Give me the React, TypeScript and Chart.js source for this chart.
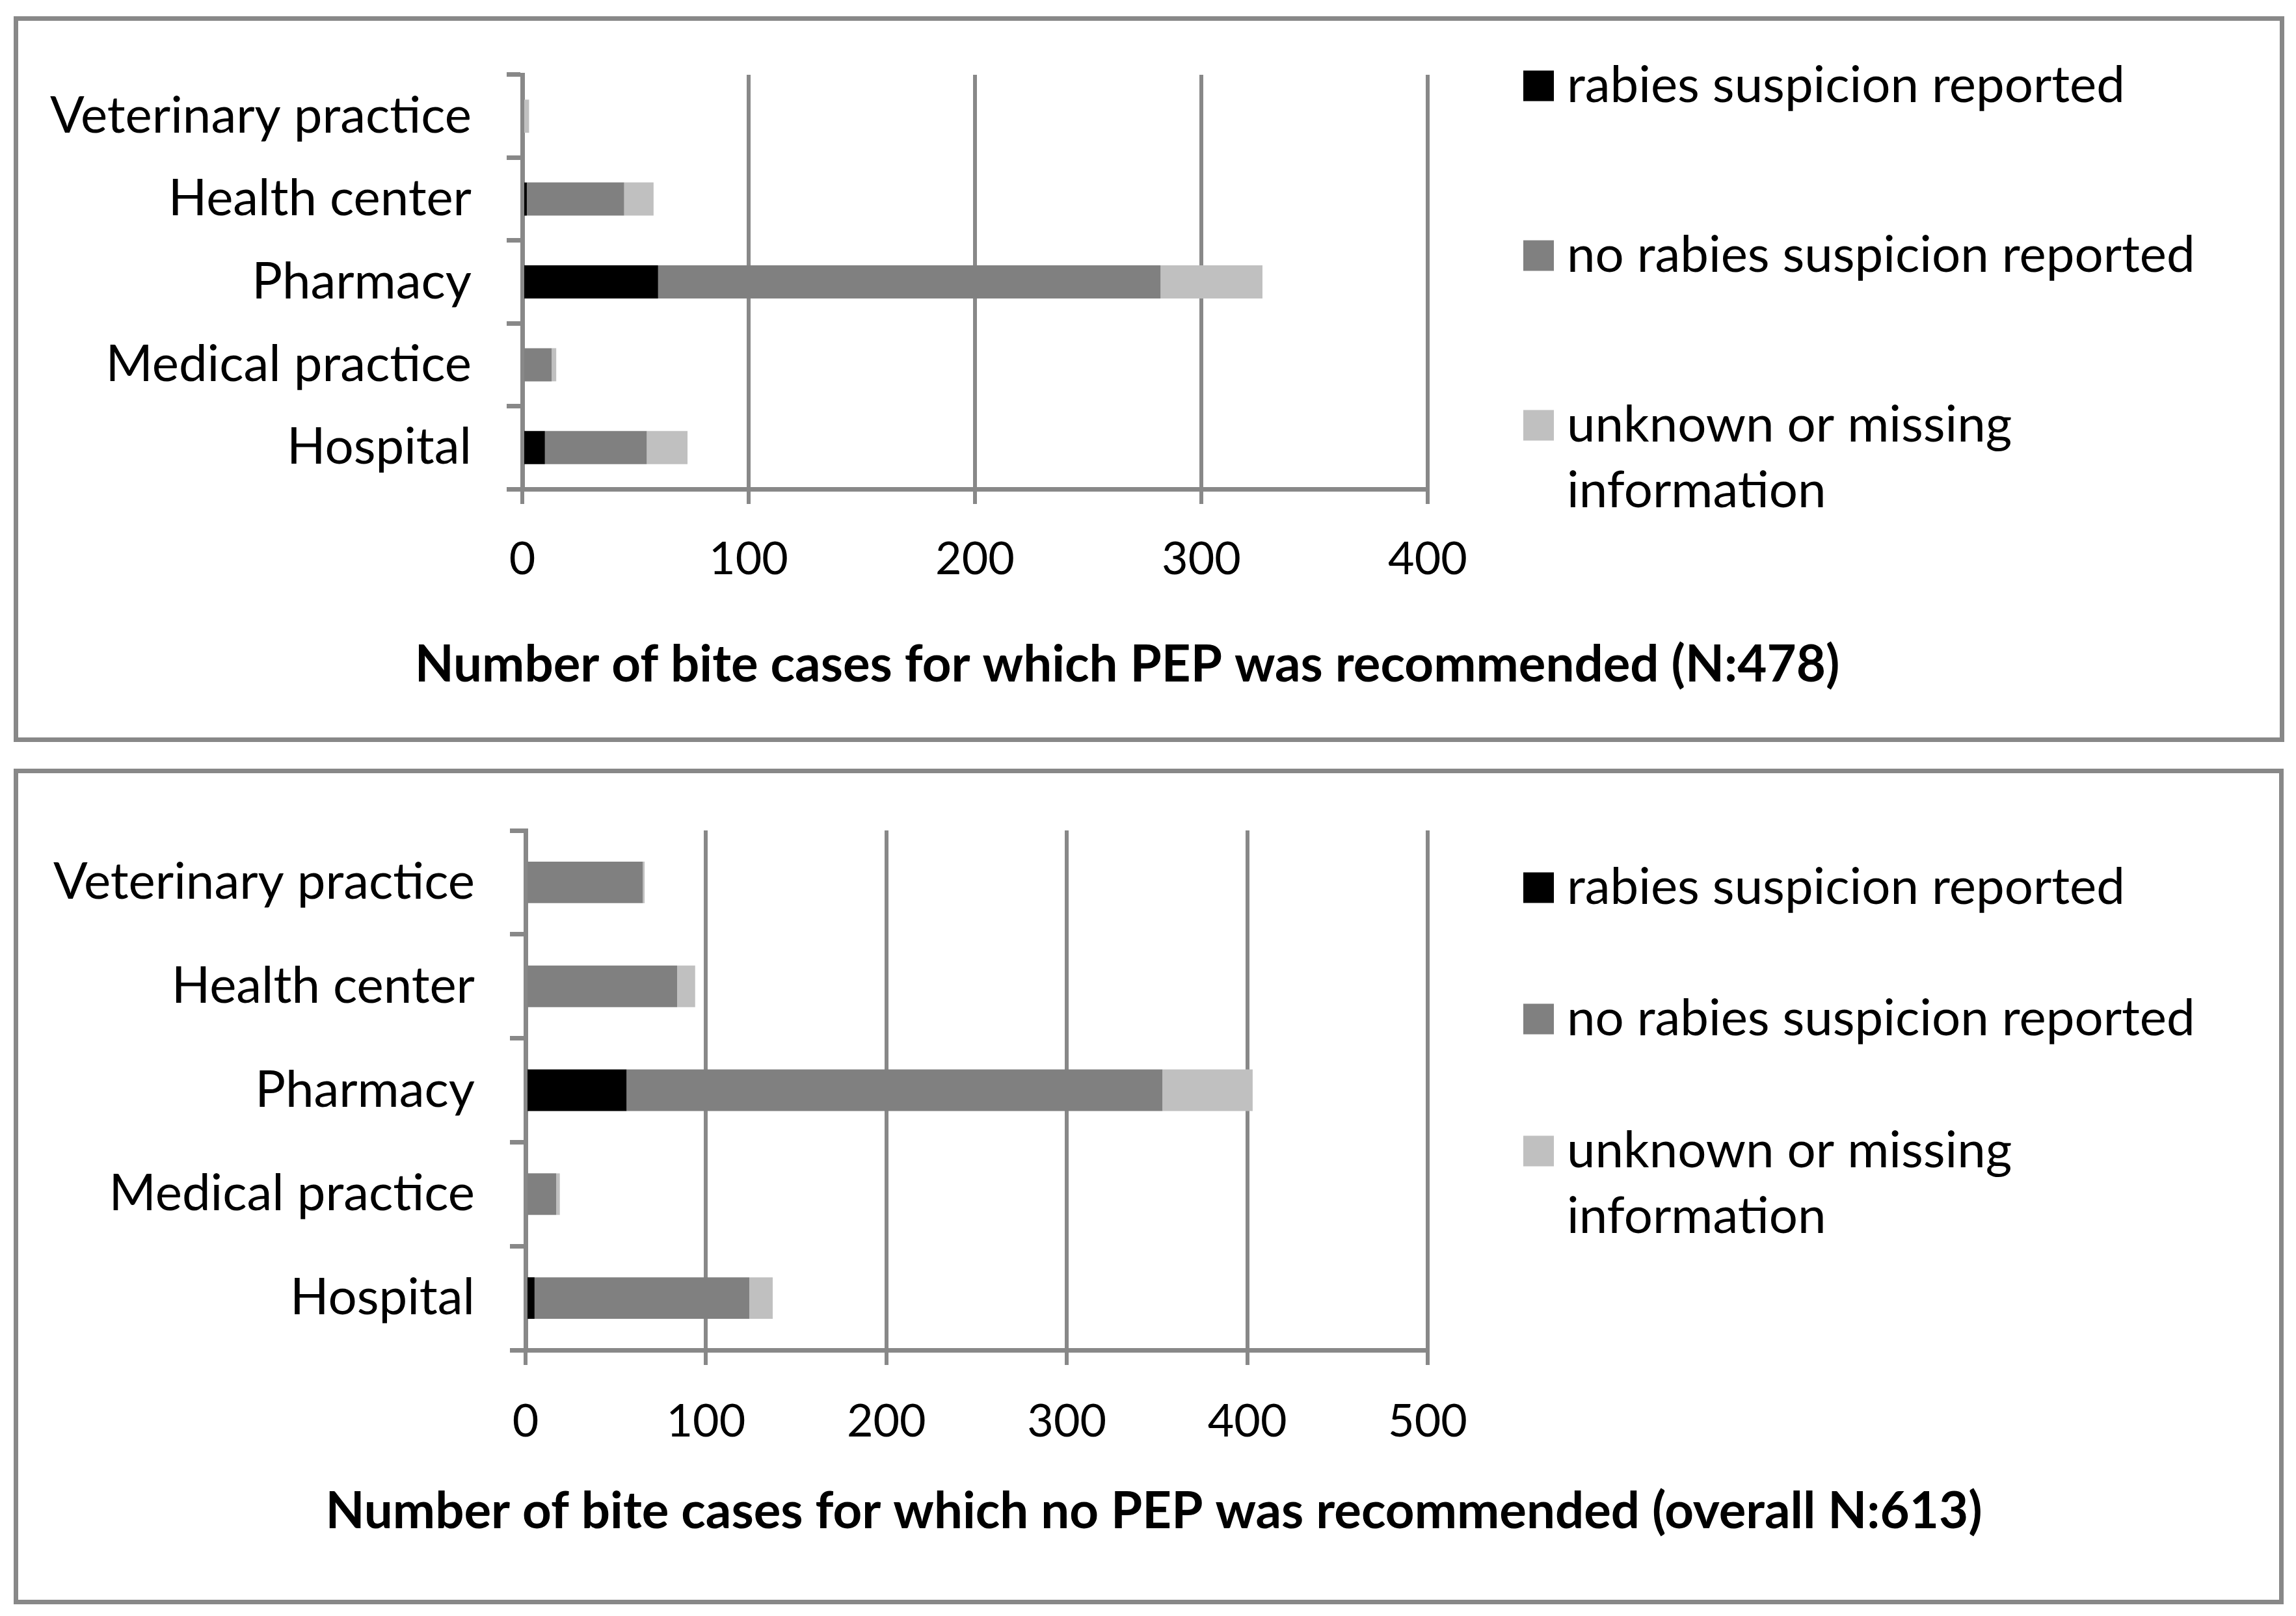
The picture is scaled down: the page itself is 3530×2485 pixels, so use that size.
import React, { useEffect, useRef } from "react";
import { Chart, registerables } from "chart.js";

Chart.register(...registerables);

// ---------- data ----------
const categories = ["Veterinary practice", "Health center", "Pharmacy", "Medical practice", "Hospital"];
const seriesNames = ["rabies suspicion reported", "no rabies suspicion reported", "unknown or missing information"];
const seriesColors = ["#000000", "#808080", "#c0c0c0"];

const pepRabies = [0, 2, 60, 0, 10];
const pepNoRabies = [0, 43, 222, 13, 45];
const pepUnknown = [3, 13, 45, 2, 18];

const noPepRabies = [0, 0, 56, 0, 5];
const noPepNoRabies = [65, 84, 297, 17, 119];
const noPepUnknown = [1, 10, 50, 2, 13];

const pepTicks = [0, 100, 200, 300, 400];
const noPepTicks = [0, 100, 200, 300, 400, 500];

const pepTitle = "Number of bite cases for which PEP was recommended (N:478)";
const noPepTitle = "Number of bite cases for which no PEP was recommended (overall N:613)";

// ---------- style ----------
const FONT = 'Lato, "Noto Sans", sans-serif';
const AXIS = "#888888";
const LABEL_SIZE = 78;
const TICK_SIZE = 70;
const LEGEND_SIZE = 78;
const TITLE_SIZE = 78;
const W = 3530;

function wrapText(ctx: CanvasRenderingContext2D, text: string, maxWidth: number): string[] {
  const words = text.split(" ");
  const lines: string[] = [];
  let cur = "";
  for (const w of words) {
    const test = cur ? cur + " " + w : w;
    if (ctx.measureText(test).width > maxWidth && cur) {
      lines.push(cur);
      cur = w;
    } else {
      cur = test;
    }
  }
  if (cur) lines.push(cur);
  return lines;
}

const decorPlugin = {
  id: "decor",
  afterDraw(chart: any, _args: any, opts: any) {
    const ctx: CanvasRenderingContext2D = chart.ctx;
    ctx.save();
    ctx.textBaseline = "middle";
    ctx.textAlign = "left";
    ctx.font = `${LEGEND_SIZE}px ${FONT}`;
    chart.data.datasets.forEach((ds: any, i: number) => {
      const y = opts.legendCenters[i];
      ctx.fillStyle = ds.backgroundColor;
      ctx.fillRect(opts.boxX, y - opts.boxSize / 2, opts.boxSize, opts.boxSize);
      ctx.fillStyle = "#000000";
      const lines = wrapText(ctx, ds.label, opts.maxWidth);
      lines.forEach((ln, k) => ctx.fillText(ln, opts.textX, y + k * opts.lineGap));
    });
    ctx.font = `bold ${TITLE_SIZE}px ${FONT}`;
    ctx.textAlign = "center";
    ctx.fillStyle = "#000000";
    ctx.fillText(opts.title, opts.titleX, opts.titleY);
    ctx.restore();
  },
};

type Spec = {
  rabies: number[];
  noRabies: number[];
  unknown: number[];
  ticks: number[];
  max: number;
  height: number;
  left: number;
  right: number;
  top: number;
  bottom: number;
  tickPad: number;
  title: string;
  titleX: number;
  titleY: number;
  legendCenters: number[];
};

function buildChart(canvas: HTMLCanvasElement, s: Spec) {
  return new Chart(canvas, {
    type: "bar",
    data: {
      labels: categories,
      datasets: [
        { label: seriesNames[0], data: s.rabies, backgroundColor: seriesColors[0] },
        { label: seriesNames[1], data: s.noRabies, backgroundColor: seriesColors[1] },
        { label: seriesNames[2], data: s.unknown, backgroundColor: seriesColors[2] },
      ],
    },
    options: {
      indexAxis: "y",
      responsive: false,
      maintainAspectRatio: false,
      animation: false,
      devicePixelRatio: 1,
      layout: { padding: { left: 0, top: s.top, right: W - s.right, bottom: 0 } },
      datasets: { bar: { barPercentage: 0.4, categoryPercentage: 1, borderWidth: 0 } },
      scales: {
        x: {
          type: "linear",
          stacked: true,
          min: 0,
          max: s.max,
          afterBuildTicks: (scale: any) => {
            scale.ticks = s.ticks.map((v) => ({ value: v }));
          },
          afterFit: (scale: any) => {
            scale.height = s.height - s.bottom;
          },
          grid: { color: AXIS, lineWidth: 6, tickLength: 23, drawTicks: true, drawOnChartArea: true },
          border: { display: true, color: AXIS, width: 7 },
          ticks: { color: "#000000", font: { family: FONT, size: TICK_SIZE }, padding: s.tickPad, maxRotation: 0 },
        },
        y: {
          type: "category",
          stacked: true,
          z: 1,
          afterFit: (scale: any) => {
            scale.width = s.left;
          },
          grid: { color: AXIS, lineWidth: 7, tickLength: 24, drawOnChartArea: false, offset: true, drawTicks: true },
          border: { display: true, color: AXIS, width: 7 },
          ticks: { color: "#000000", font: { family: FONT, size: LABEL_SIZE }, padding: 54 },
        },
      },
      plugins: {
        legend: { display: false },
        tooltip: { enabled: false },
        title: { display: false },
        decor: {
          boxX: 2342,
          boxSize: 47,
          textX: 2409,
          maxWidth: 1000,
          lineGap: 101,
          legendCenters: s.legendCenters,
          title: s.title,
          titleX: s.titleX,
          titleY: s.titleY,
        },
      } as any,
    },
    plugins: [decorPlugin as any],
  });
}

function ChartBox({ spec, top, height }: { spec: Spec; top: number; height: number }) {
  const ref = useRef<HTMLCanvasElement>(null);
  useEffect(() => {
    if (!ref.current) return;
    const c = buildChart(ref.current, spec);
    return () => c.destroy();
  }, [spec]);
  return (
    <canvas
      ref={ref}
      width={W}
      height={height}
      style={{ position: "absolute", left: 0, top, width: W, height }}
    />
  );
}

const topSpec: Spec = {
  rabies: pepRabies,
  noRabies: pepNoRabies,
  unknown: pepUnknown,
  ticks: pepTicks,
  max: 400,
  height: 1160,
  left: 803,
  right: 2195,
  top: 115,
  bottom: 752,
  tickPad: 43,
  title: pepTitle,
  titleX: 1733,
  titleY: 1023,
  legendCenters: [132, 393, 654],
};

const bottomSpec: Spec = {
  rabies: noPepRabies,
  noRabies: noPepNoRabies,
  unknown: noPepUnknown,
  ticks: noPepTicks,
  max: 500,
  height: 1325,
  left: 808,
  right: 2195,
  top: 117,
  bottom: 916,
  tickPad: 45,
  title: noPepTitle,
  titleX: 1774,
  titleY: 1165,
  legendCenters: [205, 407, 610],
};

export default function App() {
  return (
    <div style={{ position: "absolute", left: 0, top: 0, width: W, height: 2485, background: "#ffffff" }}>
      <div
        style={{
          position: "absolute",
          left: 21,
          top: 25,
          width: 3491,
          height: 1116,
          border: `7px solid ${AXIS}`,
          boxSizing: "border-box",
        }}
      />
      <div
        style={{
          position: "absolute",
          left: 21,
          top: 1182,
          width: 3490,
          height: 1285,
          border: `7px solid ${AXIS}`,
          boxSizing: "border-box",
        }}
      />
      <ChartBox spec={topSpec} top={0} height={1160} />
      <ChartBox spec={bottomSpec} top={1160} height={1325} />
    </div>
  );
}
